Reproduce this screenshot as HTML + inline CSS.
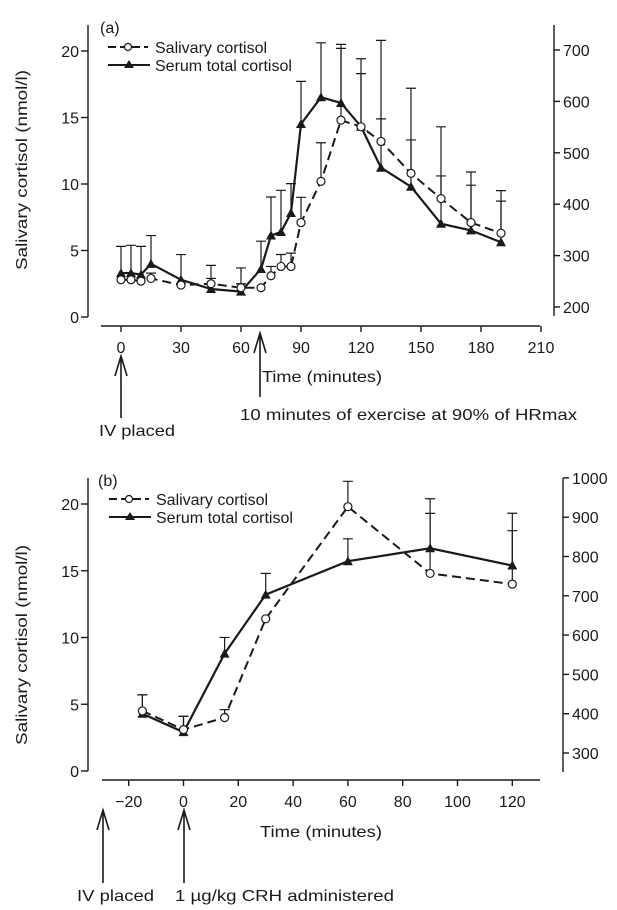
<!DOCTYPE html>
<html><head><meta charset="utf-8">
<style>
html,body{margin:0;padding:0;background:#fff;}
svg{display:block;font-family:"Liberation Sans",Arial,sans-serif;fill:#1a1a1a;}
</style></head>
<body>
<svg id="chart" width="617" height="910" viewBox="0 0 617 910" xmlns="http://www.w3.org/2000/svg">
<g id="pa"></g>
<g id="pb"></g>
</svg>
<script>
// Panel (a) data
const aTimes = [0,5,10,15,30,45,60,70,75,80,85,90,100,110,120,130,145,160,175,190];
const aSal = [2.8,2.8,2.7,2.9,2.4,2.5,2.2,2.2,3.1,3.8,3.8,7.1,10.2,14.8,14.3,13.2,10.8,8.9,7.1,6.3];
const aSalErr = [null,null,null,3.3,null,2.9,2.5,null,3.8,4.7,4.8,9.0,13.1,20.2,18.3,20.8,17.2,14.3,10.9,9.5];
// serum in nmol/l (right axis)
const aSerum = [266,266,263,284,253,235,230,274,339,346,383,556,608,597,551,471,434,362,349,326];
const aSerumErr = [318,320,318,339,302,281,276,328,414,427,440,639,714,711,683,566,525,455,437,406];
const aXTicks = [0,30,60,90,120,150,180,210];
const aYTicks = [0,5,10,15,20];
const aRTicks = [200,300,400,500,600,700];
// Panel (b) data
const bTimes = [-15,0,15,30,60,90,120];
const bSal = [4.5,3.1,4.0,11.4,19.8,14.8,14.0];
const bSalErr = [5.7,4.1,4.6,null,21.7,19.3,18.0];
const bSerum = [400,353,553,703,788,821,777];
const bSerumErr = [448,393,594,757,845,947,910];
const bXTicks = [-20,0,20,40,60,80,100,120];
const bYTicks = [0,5,10,15,20];
const bRTicks = [300,400,500,600,700,800,900,1000];

const NS = "http://www.w3.org/2000/svg";
function el(parent, tag, attrs, text){
  const e = document.createElementNS(NS, tag);
  for (const k in attrs) e.setAttribute(k, attrs[k]);
  if (text !== undefined) e.textContent = text;
  parent.appendChild(e);
  return e;
}

function drawPanel(g, cfg){
  const X = t => cfg.x0 + (t - cfg.t0) * cfg.xs;
  const YL = v => cfg.yl0 - v * cfg.yls;
  const YR = v => cfg.yr0 - (v - cfg.r0) * cfg.yrs;
  const st = {stroke:"#1a1a1a", fill:"none", "stroke-width":1.4};
  let e = el(g,"line",Object.assign({x1:88,x2:88,y1:cfg.axTop,y2:cfg.yl0},st));
   
  cfg.yTicks.forEach(v=>{
    el(g,"line",Object.assign({x1:81,x2:88,y1:YL(v),y2:YL(v)},st));
    e = el(g,"text",{x:79,y:YL(v)+6,"text-anchor":"end","font-size":16},v);
     
  });
  e = el(g,"line",Object.assign({x1:cfg.rx,x2:cfg.rx,y1:cfg.rTop,y2:cfg.rBot},st));
   
  cfg.rTicks.forEach(v=>{
    el(g,"line",Object.assign({x1:cfg.rx,x2:cfg.rx+6,y1:YR(v),y2:YR(v)},st));
    e = el(g,"text",{x:cfg.rx+9,y:YR(v)+6,"font-size":16},v);
     
  });
  e = el(g,"line",Object.assign({x1:cfg.xa1,x2:cfg.xa2,y1:cfg.xy,y2:cfg.xy},st));
   
  cfg.xTicks.forEach(t=>{
    el(g,"line",Object.assign({x1:X(t),x2:X(t),y1:cfg.xy,y2:cfg.xy+6},st));
    e = el(g,"text",{x:X(t),y:cfg.xy+27,"text-anchor":"middle","font-size":16},t<0?"\u2212"+(-t):t);
     
  });
  e = el(g,"text",{x:0,y:0,transform:`translate(27,${cfg.titleY}) rotate(-90)`,"text-anchor":"middle","font-size":16,textLength:200,lengthAdjust:"spacingAndGlyphs"},"Salivary cortisol (nmol/l)");
   
  cfg.times.forEach((t,i)=>{
    [[cfg.salErr[i],YL(cfg.sal[i]),YL],[cfg.serErr[i],YR(cfg.ser[i]),YR]].forEach(([top,y0,f])=>{
      if(top==null) return;
      const yt=f(top);
      e = el(g,"path",Object.assign({d:`M${X(t)},${y0}V${yt}M${X(t)-5},${yt}H${X(t)+5}`},st,{"stroke-width":1.2}));
       
    });
  });
  e = el(g,"polyline",Object.assign({points:cfg.times.map((t,i)=>X(t)+","+YR(cfg.ser[i])).join(" ")},st,{"stroke-width":2.2}));
   
  e = el(g,"polyline",Object.assign({points:cfg.times.map((t,i)=>X(t)+","+YL(cfg.sal[i])).join(" ")},st,{"stroke-width":2,"stroke-dasharray":"9,5"}));
   
  cfg.times.forEach((t,i)=>{
    const x=X(t), y=YR(cfg.ser[i]);
    e = el(g,"path",{d:`M${x},${y-5}L${x+5},${y+4}L${x-5},${y+4}Z`,fill:"#1a1a1a"});
     
  });
  cfg.times.forEach((t,i)=>{
    e = el(g,"circle",{cx:X(t),cy:YL(cfg.sal[i]),r:4,fill:"#fff",stroke:"#1a1a1a","stroke-width":1.2});
     
  });
  e = el(g,"text",{x:cfg.lbx,y:cfg.lby,"font-size":16},cfg.label);
   
  const lg = el(g,"g",{});
   
  el(lg,"line",Object.assign({x1:cfg.lgx,x2:cfg.lgx+40,y1:cfg.lgy,y2:cfg.lgy},st,{"stroke-width":2,"stroke-dasharray":"8,4"}));
  el(lg,"circle",{cx:cfg.lgx+20,cy:cfg.lgy,r:3.5,fill:"#fff",stroke:"#1a1a1a","stroke-width":1.2});
  e = el(lg,"text",{x:cfg.lgx+47,y:cfg.lgy+6,"font-size":16},"Salivary cortisol");
   
  const y2 = cfg.lgy+cfg.lgdy;
  el(lg,"line",Object.assign({x1:cfg.lgx,x2:cfg.lgx+42,y1:y2,y2:y2},st,{"stroke-width":2}));
  el(lg,"path",{d:`M${cfg.lgx+21},${y2-5}L${cfg.lgx+26},${y2+3}L${cfg.lgx+16},${y2+3}Z`,fill:"#1a1a1a"});
  e = el(lg,"text",{x:cfg.lgx+47,y:y2+6,"font-size":16},"Serum total cortisol");
   
}

function arrow(g,x,yt,yb,name){
  const e = el(g,"path",{d:`M${x},${yb}V${yt}M${x-6},${yt+20}L${x},${yt}L${x+6},${yt+20}`,stroke:"#1a1a1a",fill:"none","stroke-width":1.6});
   
}
function label(g,x,y,t,name,len){
  const a={x:x,y:y,"font-size":16};
  if(len){a.textLength=len;a.lengthAdjust="spacingAndGlyphs";}
  const e = el(g,"text",a,t);
   
}

const pa=document.getElementById('pa');
drawPanel(pa,{x0:121,t0:0,xs:2,yl0:317,yls:13.3,yr0:307,r0:200,yrs:0.514,axTop:25,
  rx:554,rTop:25,rBot:316,xy:326,xa1:101,xa2:540,xTicks:aXTicks,yTicks:aYTicks,rTicks:aRTicks,
  times:aTimes,sal:aSal,salErr:aSalErr,ser:aSerum,serErr:aSerumErr,titleY:170,
  label:"(a)",lbx:100,lby:33,lgx:108,lgy:47,lgdy:18});
arrow(pa,121,356,418,'iv-placed-arrow');
arrow(pa,260,333,397,'exercise-arrow');
label(pa,262,382,"Time (minutes)",'x-axis-title',120);
label(pa,240,420,"10 minutes of exercise at 90% of HRmax",'exercise-annotation',337);
label(pa,99,436,"IV placed",'iv-placed-label',76);

const pb=document.getElementById('pb');
drawPanel(pb,{x0:183.5,t0:0,xs:2.74,yl0:771,yls:13.35,yr0:753,r0:300,yrs:0.393,axTop:478,
  rx:563,rTop:478,rBot:772,xy:780,xa1:102,xa2:540,xTicks:bXTicks,yTicks:bYTicks,rTicks:bRTicks,
  times:bTimes,sal:bSal,salErr:bSalErr,ser:bSerum,serErr:bSerumErr,titleY:645,
  label:"(b)",lbx:98,lby:486,lgx:109,lgy:499,lgdy:18});
arrow(pb,103,810,883,'iv-placed-arrow-b');
arrow(pb,184,810,883,'crh-arrow');
label(pb,260,837,"Time (minutes)",'x-axis-title-b',122);
label(pb,77,901,"IV placed",'iv-placed-label-b',77);
label(pb,175,901,"1 \u00b5g/kg CRH administered",'crh-annotation',219);
</script>
</body></html>
